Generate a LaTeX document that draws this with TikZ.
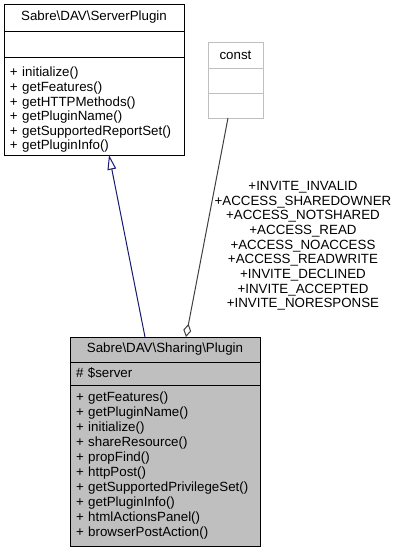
\documentclass[tikz,border=0pt]{standalone}
\usepackage{fontspec}
\setmainfont{Liberation Sans}
\usetikzlibrary{positioning,calc,arrows.meta}
\definecolor{midnight}{HTML}{191970}
\definecolor{grey25}{HTML}{404040}
\definecolor{grey75}{HTML}{BFBFBF}
\begin{document}
\begin{tikzpicture}
    [x=0.75pt,y=-0.75pt,
    every node/.style={font=\fontsize{10}{11}\selectfont},
    part/.style={draw,line width=0.75pt,inner xsep=4.5pt,inner ysep=0pt,outer sep=0pt},
    sp part/.style={part,text width=126pt,minimum height=#1},
    pl part/.style={part,fill=grey75,text width=133.5pt,minimum height=#1},
    co part/.style={part,draw=grey75,text width=32.25pt,minimum height=#1}]
    \useasboundingbox (0,0) rectangle (401,551);
    % Sabre\DAV\ServerPlugin
    \node[sp part=20.25pt,align=center,anchor=north west] (spt) at (4,4)
      {Sabre\textbackslash DAV\textbackslash ServerPlugin};
    \node[sp part=19.5pt,below=0pt of spt] (spa) {};
    \node[sp part=73.5pt,align=left,text height=13pt,below=0pt of spa,
      font=\fontsize{10}{10.9}\selectfont] (spm)
      {+ initialize()\\
       + getFeatures()\\
       + getHTTPMethods()\\
       + getPluginName()\\
       + getSupportedReportSet()\\
       + getPluginInfo()};
    % const
    \node[co part=19.5pt,align=center,anchor=north west] (cot) at (208,42) {const};
    \node[co part=18.75pt,below=0pt of cot] (coa) {};
    \node[co part=18.75pt,below=0pt of coa] (com) {};
    % Sabre\DAV\Sharing\Plugin
    \node[pl part=18.75pt,align=center,anchor=north west] (plt) at (70,337)
      {Sabre\textbackslash DAV\textbackslash Sharing\textbackslash Plugin};
    \node[pl part=17.25pt,align=left,below=0pt of plt] (pla) {\# \$server};
    \node[pl part=120.75pt,align=left,below=0pt of pla,
      font=\fontsize{10}{11.25}\selectfont] (plm)
      {+ getFeatures()\\
       + getPluginName()\\
       + initialize()\\
       + shareResource()\\
       + propFind()\\
       + httpPost()\\
       + getSupportedPrivilegeSet()\\
       + getPluginInfo()\\
       + htmlActionsPanel()\\
       + browserPostAction()};
    \draw[midnight,line width=0.75pt,-{Triangle[open,length=11pt,width=6.5pt]}]
      ($(plt.north)+(-20,0)$) -- ($(spm.south)+(15,0)$);
    \draw[grey25,line width=0.75pt,{Diamond[open,length=10pt,width=6pt]}-]
      ($(plt.north)+(21,0)$) -- ($(com.south)+(-7.5,0)$);
    \node[align=center] (lbl) at (303,246)
      {+INVITE\_INVALID\\
       +ACCESS\_SHAREDOWNER\\
       +ACCESS\_NOTSHARED\\
       +ACCESS\_READ\\
       +ACCESS\_NOACCESS\\
       +ACCESS\_READWRITE\\
       +INVITE\_DECLINED\\
       +INVITE\_ACCEPTED\\
       +INVITE\_NORESPONSE};
\end{tikzpicture}
\end{document}
